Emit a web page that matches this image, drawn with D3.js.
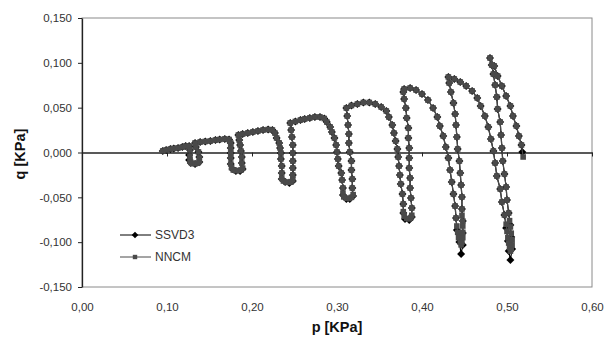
<!DOCTYPE html>
<html>
<head>
<meta charset="utf-8">
<script src="https://cdn.jsdelivr.net/npm/d3@7"></script>
<style>
  body { margin: 0; background: #fff; }
  text { font-family: "Liberation Sans", Arial, sans-serif; }
</style>
</head>
<body>
<svg id="chart" width="612" height="353"></svg>
<script>
// tick values
var xTicks = [0, 0.1, 0.2, 0.3, 0.4, 0.5, 0.6];
var yTicks = [-0.15, -0.1, -0.05, 0, 0.05, 0.1, 0.15];
var seriesNames = ["SSVD3", "NNCM"];

// [p, q], in drawing order
var ssvd3 = [
  [0.095,0.0017],[0.099,0.0028],[0.104,0.0039],[0.108,0.0045],[0.113,0.0050],[0.118,0.0061],[0.122,0.0072],[0.126,0.0072],
  [0.127,0.0028],[0.126,-0.0028],[0.126,-0.0084],[0.128,-0.0117],[0.133,-0.0128],[0.138,-0.0106],[0.138,-0.0050],[0.137,0.0006],[0.134,0.0061],
  [0.133,0.0106],[0.139,0.0117],[0.145,0.0123],[0.151,0.0128],[0.157,0.0139],[0.162,0.0145],[0.168,0.0151],[0.173,0.0145],
  [0.175,0.0106],[0.175,0.0050],[0.175,-0.0006],[0.175,-0.0061],[0.175,-0.0128],[0.177,-0.0184],[0.181,-0.0206],[0.186,-0.0206],
  [0.189,-0.0184],[0.188,-0.0117],[0.188,-0.0050],[0.187,0.0017],[0.186,0.0084],[0.185,0.0139],
  [0.184,0.0195],[0.189,0.0206],[0.195,0.0217],[0.201,0.0229],[0.207,0.0240],[0.213,0.0251],[0.219,0.0256],[0.224,0.0251],
  [0.227,0.0217],[0.229,0.0162],[0.232,0.0106],[0.233,0.0050],[0.234,-0.0006],[0.234,-0.0072],[0.235,-0.0151],[0.235,-0.0229],
  [0.235,-0.0296],[0.239,-0.0329],[0.244,-0.0340],[0.248,-0.0318],[0.248,-0.0251],[0.248,-0.0173],[0.248,-0.0095],[0.248,-0.0006],
  [0.248,0.0084],[0.247,0.0173],[0.246,0.0251],
  [0.245,0.0329],[0.251,0.0346],[0.257,0.0362],[0.262,0.0374],[0.268,0.0385],[0.274,0.0396],[0.280,0.0396],[0.285,0.0379],
  [0.288,0.0340],[0.292,0.0284],[0.294,0.0229],[0.297,0.0162],[0.299,0.0084],[0.300,0.0006],[0.301,-0.0072],[0.302,-0.0151],
  [0.305,-0.0229],[0.306,-0.0307],[0.307,-0.0396],[0.307,-0.0474],[0.311,-0.0519],[0.315,-0.0519],[0.319,-0.0485],[0.318,-0.0396],
  [0.318,-0.0296],[0.317,-0.0195],[0.317,-0.0095],[0.315,0.0006],[0.314,0.0106],[0.314,0.0206],[0.313,0.0307],[0.312,0.0407],
  [0.311,0.0496],[0.317,0.0524],[0.324,0.0541],[0.331,0.0558],[0.338,0.0558],[0.345,0.0541],[0.352,0.0507],[0.358,0.0463],
  [0.361,0.0396],[0.365,0.0307],[0.367,0.0217],[0.369,0.0128],[0.371,0.0039],[0.372,-0.0050],[0.373,-0.0151],[0.374,-0.0251],
  [0.375,-0.0351],[0.377,-0.0463],[0.378,-0.0574],[0.378,-0.0675],[0.380,-0.0742],[0.385,-0.0753],[0.388,-0.0719],[0.388,-0.0619],
  [0.387,-0.0507],[0.386,-0.0396],[0.386,-0.0284],[0.385,-0.0173],[0.385,-0.0061],[0.385,0.0050],[0.384,0.0162],[0.384,0.0273],
  [0.382,0.0385],[0.381,0.0496],[0.379,0.0597],
  [0.378,0.0675],[0.379,0.0708],[0.386,0.0719],[0.393,0.0697],[0.400,0.0652],[0.407,0.0585],[0.413,0.0496],[0.418,0.0396],
  [0.421,0.0296],[0.425,0.0184],[0.428,0.0061],[0.431,-0.0061],[0.433,-0.0195],[0.435,-0.0329],[0.437,-0.0463],[0.439,-0.0597],
  [0.440,-0.0730],[0.441,-0.0864],[0.444,-0.0998],[0.446,-0.1132],[0.448,-0.1032],[0.448,-0.0898],[0.448,-0.0764],[0.447,-0.0630],
  [0.447,-0.0496],[0.446,-0.0362],[0.445,-0.0229],[0.444,-0.0095],[0.442,0.0039],[0.441,0.0173],[0.440,0.0307],[0.439,0.0429],
  [0.437,0.0552],[0.434,0.0675],[0.432,0.0775],
  [0.431,0.0842],[0.438,0.0820],[0.445,0.0786],[0.452,0.0742],[0.459,0.0686],[0.465,0.0608],[0.469,0.0519],[0.474,0.0407],
  [0.478,0.0284],[0.481,0.0151],[0.484,0.0017],[0.486,-0.0117],[0.488,-0.0262],[0.492,-0.0407],[0.494,-0.0552],[0.497,-0.0697],
  [0.499,-0.0842],[0.501,-0.0987],[0.502,-0.1098],[0.504,-0.1199],[0.506,-0.1076],[0.505,-0.0942],[0.504,-0.0809],[0.502,-0.0675],
  [0.500,-0.0530],[0.499,-0.0385],[0.497,-0.0240],[0.495,-0.0095],[0.494,0.0050],[0.493,0.0195],[0.492,0.0340],[0.489,0.0485],
  [0.488,0.0619],[0.486,0.0753],[0.484,0.0875],[0.482,0.0976],
  [0.480,0.1054],[0.485,0.0965],[0.489,0.0853],[0.494,0.0742],[0.499,0.0630],[0.504,0.0519],[0.507,0.0407],[0.511,0.0296],
  [0.514,0.0184],[0.517,0.0084],[0.518,0.0006]
];

var nncm = [
  [0.095,0.0017],[0.099,0.0028],[0.104,0.0039],[0.108,0.0045],[0.113,0.0050],[0.118,0.0061],[0.122,0.0072],[0.126,0.0072],
  [0.127,0.0028],[0.127,-0.0040],[0.127,-0.0085],[0.128,-0.0110],[0.130,-0.0122],[0.133,-0.0125],[0.136,-0.0120],[0.138,-0.0100],
  [0.138,-0.0060],[0.137,0.0006],[0.134,0.0061],
  [0.133,0.0106],[0.139,0.0117],[0.145,0.0123],[0.151,0.0128],[0.157,0.0139],[0.162,0.0145],[0.168,0.0151],[0.173,0.0145],
  [0.175,0.0106],[0.175,0.0050],[0.175,-0.0006],[0.175,-0.0061],[0.175,-0.0128],[0.176,-0.0170],[0.178,-0.0195],[0.181,-0.0202],
  [0.184,-0.0202],[0.187,-0.0195],[0.189,-0.0175],[0.188,-0.0117],[0.188,-0.0050],[0.187,0.0017],[0.186,0.0084],[0.185,0.0139],
  [0.184,0.0195],[0.189,0.0206],[0.195,0.0217],[0.201,0.0229],[0.207,0.0240],[0.213,0.0251],[0.219,0.0256],[0.224,0.0251],
  [0.227,0.0217],[0.229,0.0162],[0.232,0.0106],[0.233,0.0050],[0.234,-0.0006],[0.234,-0.0072],[0.235,-0.0151],[0.235,-0.0229],
  [0.235,-0.0290],[0.237,-0.0318],[0.240,-0.0330],[0.243,-0.0333],[0.246,-0.0325],[0.248,-0.0305],[0.248,-0.0251],[0.248,-0.0173],
  [0.248,-0.0095],[0.248,-0.0006],[0.248,0.0084],[0.247,0.0173],[0.246,0.0251],
  [0.245,0.0329],[0.251,0.0346],[0.257,0.0362],[0.262,0.0374],[0.268,0.0385],[0.274,0.0396],[0.280,0.0396],[0.285,0.0379],
  [0.288,0.0340],[0.292,0.0284],[0.294,0.0229],[0.297,0.0162],[0.299,0.0084],[0.300,0.0006],[0.301,-0.0072],[0.302,-0.0151],
  [0.305,-0.0229],[0.306,-0.0307],[0.307,-0.0396],[0.307,-0.0460],[0.308,-0.0495],[0.311,-0.0510],[0.314,-0.0512],[0.317,-0.0500],
  [0.319,-0.0470],[0.318,-0.0396],[0.318,-0.0296],[0.317,-0.0195],[0.317,-0.0095],[0.315,0.0006],[0.314,0.0106],[0.314,0.0206],
  [0.313,0.0307],[0.312,0.0407],
  [0.311,0.0496],[0.317,0.0524],[0.324,0.0541],[0.331,0.0558],[0.338,0.0558],[0.345,0.0541],[0.352,0.0507],[0.358,0.0463],
  [0.361,0.0396],[0.365,0.0307],[0.367,0.0217],[0.369,0.0128],[0.371,0.0039],[0.372,-0.0050],[0.373,-0.0151],[0.374,-0.0251],
  [0.375,-0.0351],[0.377,-0.0463],[0.378,-0.0574],[0.378,-0.0660],[0.379,-0.0710],[0.382,-0.0735],[0.385,-0.0740],[0.387,-0.0725],
  [0.388,-0.0700],[0.388,-0.0619],[0.387,-0.0507],[0.386,-0.0396],[0.386,-0.0284],[0.385,-0.0173],[0.385,-0.0061],[0.385,0.0050],
  [0.384,0.0162],[0.384,0.0273],[0.382,0.0385],[0.381,0.0496],[0.379,0.0597],
  [0.378,0.0675],[0.379,0.0708],[0.386,0.0719],[0.393,0.0697],[0.400,0.0652],[0.407,0.0585],[0.413,0.0496],[0.418,0.0396],
  [0.421,0.0296],[0.425,0.0184],[0.428,0.0061],[0.431,-0.0061],[0.433,-0.0195],[0.435,-0.0329],[0.437,-0.0463],[0.439,-0.0597],
  [0.440,-0.0730],[0.441,-0.0820],[0.442,-0.0890],[0.443,-0.0950],[0.445,-0.1000],[0.446,-0.1030],[0.447,-0.1000],[0.448,-0.0950],
  [0.448,-0.0890],[0.448,-0.0820],[0.448,-0.0764],[0.447,-0.0700],[0.447,-0.0630],[0.447,-0.0496],[0.446,-0.0362],[0.445,-0.0229],
  [0.444,-0.0095],[0.442,0.0039],[0.441,0.0173],[0.440,0.0307],[0.439,0.0429],[0.437,0.0552],[0.434,0.0675],[0.432,0.0775],
  [0.431,0.0842],[0.438,0.0820],[0.445,0.0786],[0.452,0.0742],[0.459,0.0686],[0.465,0.0608],[0.469,0.0519],[0.474,0.0407],
  [0.478,0.0284],[0.481,0.0151],[0.484,0.0017],[0.486,-0.0117],[0.488,-0.0262],[0.492,-0.0407],[0.494,-0.0552],[0.497,-0.0697],
  [0.499,-0.0800],[0.500,-0.0880],[0.501,-0.0950],[0.502,-0.1010],[0.503,-0.1060],[0.504,-0.1100],[0.505,-0.1080],[0.506,-0.1030],
  [0.506,-0.0970],[0.505,-0.0900],[0.504,-0.0830],[0.503,-0.0760],[0.502,-0.0675],[0.500,-0.0530],[0.499,-0.0385],[0.497,-0.0240],
  [0.495,-0.0095],[0.494,0.0050],[0.493,0.0195],[0.492,0.0340],[0.489,0.0485],[0.488,0.0619],[0.486,0.0753],[0.484,0.0875],
  [0.482,0.0976],
  [0.480,0.1054],[0.485,0.0965],[0.489,0.0853],[0.494,0.0742],[0.499,0.0630],[0.504,0.0519],[0.507,0.0407],[0.511,0.0296],
  [0.514,0.0184],[0.517,0.0084],[0.519,-0.0050]
];

var svg = d3.select("#chart");
var plotLeft = 82, plotRight = 592, plotTop = 18, plotBottom = 287;

var xScale = d3.scaleLinear().domain([0, 0.6]).range([plotLeft, plotRight]);
var yScale = d3.scaleLinear().domain([-0.15, 0.15]).range([plotBottom, plotTop]);

var commaFmt = function(f) {
  return function(d) { return d3.format(f)(d).replace(".", ",").replace("\u2212", "-"); };
};

// plot frame
svg.append("rect")
  .attr("x", plotLeft).attr("y", plotTop)
  .attr("width", plotRight - plotLeft).attr("height", plotBottom - plotTop)
  .attr("fill", "none")
  .attr("stroke", "#8a8a8a")
  .attr("stroke-width", 1);

// y axis
var yAxis = d3.axisLeft(yScale)
  .tickValues(yTicks)
  .tickSize(4)
  .tickSizeOuter(0)
  .tickPadding(6)
  .tickFormat(commaFmt(".3f"));

var gy = svg.append("g")
  .attr("class", "y-axis axis")
  .attr("transform", "translate(" + plotLeft + ",0)")
  .call(yAxis);
gy.select(".domain").attr("stroke", "#222").attr("stroke-width", 1.3);
gy.selectAll(".tick line").attr("stroke", "#222");
gy.selectAll("text").attr("font-size", 11.5).attr("fill", "#333")
  .attr("font-family", "'Liberation Sans', Arial, sans-serif");

// x axis: ticks on the zero line, labels below the frame
var xAxisZero = d3.axisBottom(xScale)
  .tickValues(xTicks)
  .tickSize(4)
  .tickSizeOuter(0)
  .tickFormat("");

var gx0 = svg.append("g")
  .attr("class", "x-axis axis")
  .attr("transform", "translate(0," + yScale(0) + ")")
  .call(xAxisZero);
gx0.select(".domain").attr("stroke", "#222").attr("stroke-width", 1.3);
gx0.selectAll(".tick line").attr("stroke", "#222");

var xAxisLabels = d3.axisBottom(xScale)
  .tickValues(xTicks)
  .tickSize(0)
  .tickPadding(16)
  .tickFormat(commaFmt(".2f"));

var gx = svg.append("g")
  .attr("class", "x-labels")
  .attr("transform", "translate(0," + plotBottom + ")")
  .call(xAxisLabels);
gx.select(".domain").remove();
gx.selectAll("text").attr("font-size", 11.5).attr("fill", "#333")
  .attr("font-family", "'Liberation Sans', Arial, sans-serif");

// axis titles
svg.append("text")
  .text("p [KPa]")
  .attr("x", 337)
  .attr("y", 332)
  .attr("text-anchor", "middle")
  .attr("font-size", 14.5)
  .attr("font-weight", "bold")
  .attr("fill", "#111");

svg.append("text")
  .text("q [KPa]")
  .attr("transform", "translate(25,154) rotate(-90)")
  .attr("text-anchor", "middle")
  .attr("font-size", 14.5)
  .attr("font-weight", "bold")
  .attr("fill", "#111");

// series
var colors = ["#000000", "#4a4a4a"];
var diamond = "M0,-4L4,0L0,4L-4,0Z";
var square = "M-2.8,-2.8H2.8V2.8H-2.8Z";
var shapes = [diamond, square];

var line = d3.line()
  .x(function(d) { return xScale(d[0]); })
  .y(function(d) { return yScale(d[1]); });

function drawSeries(data, idx) {
  svg.append("path")
    .datum(data)
    .attr("fill", "none")
    .attr("stroke", colors[idx])
    .attr("stroke-width", 1.2)
    .attr("d", line);

  svg.selectAll(".marker" + idx)
    .data(data)
    .enter()
    .append("path")
    .attr("class", "marker" + idx)
    .attr("d", shapes[idx])
    .attr("transform", function(d) {
      return "translate(" + xScale(d[0]) + "," + yScale(d[1]) + ")";
    })
    .attr("fill", colors[idx]);
}

drawSeries(ssvd3, 0);
drawSeries(nncm, 1);

// legend
var legendY = [235, 257];
var legendShapes = ["M0,-3.3L3.3,0L0,3.3L-3.3,0Z", "M-2.2,-2.2H2.2V2.2H-2.2Z"];
seriesNames.forEach(function(name, i) {
  var g = svg.append("g").attr("class", "legend");
  g.append("line")
    .attr("x1", 120).attr("x2", 151)
    .attr("y1", legendY[i]).attr("y2", legendY[i])
    .attr("stroke", colors[i])
    .attr("stroke-width", 1);
  g.append("path")
    .attr("d", legendShapes[i])
    .attr("transform", "translate(135," + legendY[i] + ")")
    .attr("fill", colors[i]);
  g.append("text")
    .text(name)
    .attr("x", 155)
    .attr("y", legendY[i] + 4)
    .attr("font-size", 12)
    .attr("fill", "#333");
});
</script>
</body>
</html>
